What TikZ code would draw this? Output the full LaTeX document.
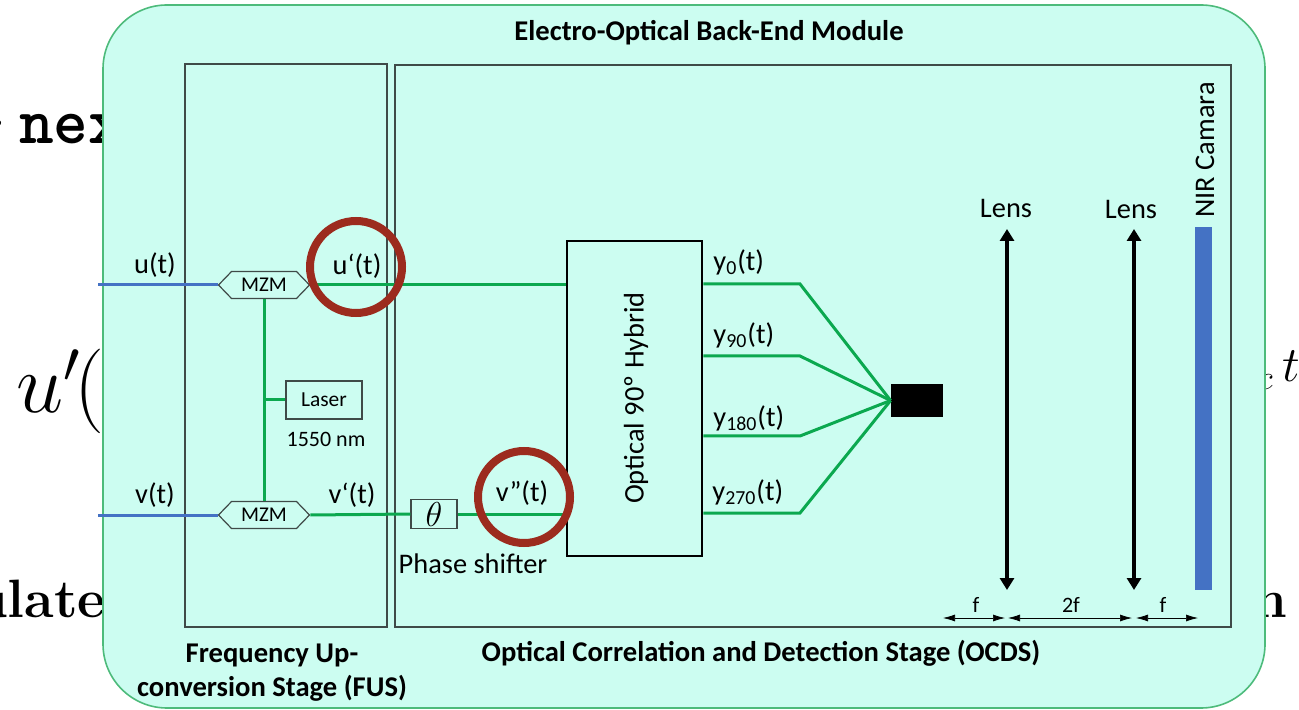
\documentclass[tikz,border=0pt]{standalone}
\usepackage{amsmath}
\usepackage{xcolor}
\usepackage{graphicx}
\usepackage{fontspec}
\newfontfamily\carlito{Carlito}
\usetikzlibrary{positioning,arrows.meta,shapes.symbols}
\definecolor{panelfill}{HTML}{CCFDF1}
\definecolor{panelline}{HTML}{4DBB7B}
\definecolor{fibre}{HTML}{0BA84F}
\definecolor{feed}{HTML}{4472C4}
\definecolor{ring}{HTML}{9C2B1E}
\definecolor{stageline}{HTML}{3F4A48}
\tikzset{
    stagebox/.style={draw=stageline, line width=0.7pt, inner sep=0pt},
    modulator/.style={draw=stageline, line width=0.6pt, fill=panelfill, signal, signal to=east and west, signal pointer angle=92, minimum width=45.5pt, minimum height=13.5pt, inner sep=0pt, font=\carlito\fontsize{10.5}{12}\selectfont},
    smallbox/.style={draw=stageline, line width=0.6pt, fill=panelfill, inner sep=0pt, font=\carlito\fontsize{10.7}{12}\selectfont},
    lbl/.style={font=\carlito\fontsize{14.2}{16}\selectfont, inner sep=0pt},
    smalllbl/.style={font=\carlito\fontsize{11}{13}\selectfont, inner sep=0pt},
    boldlbl/.style={font=\carlito\fontsize{14.3}{16}\selectfont\bfseries, inner sep=0pt},
    backtt/.style={font=\fontsize{33}{38}\selectfont\ttfamily\bfseries, inner sep=0pt, anchor=base west},
    backrm/.style={font=\fontsize{27}{32}\selectfont\bfseries, inner sep=0pt, anchor=base east},
    fibreline/.style={draw=fibre, line width=1.5pt},
    feedline/.style={draw=feed, line width=1.5pt},
    lensarrow/.style={line width=2pt, {Triangle[width=7pt,length=6pt]}-{Triangle[width=7pt,length=6pt]}},
    gaparrow/.style={line width=0.35pt, {Latex[width=3.5pt,length=6pt]}-{Latex[width=3.5pt,length=6pt]}},
    marker/.style={draw=ring, line width=4pt, circle, minimum size=46pt, inner sep=0pt}
}
\begin{document}
\begin{tikzpicture}[x=0.5pt,y=-0.5pt]
    \useasboundingbox (0,0) rectangle (1299,710);
    \clip (0,0) rectangle (1299,710);

    % Tekst achter het paneel
    \node[backtt] (backnext) at (-30,144) {-\kern1.5pt\,nex};
    \node[backrm] (backlate) at (106,617) {ulate};
    \node[backrm] (backn) at (1288,617) {n};
    \node[anchor=base west, inner sep=0pt, font=\fontsize{24}{28}\selectfont] (backu) at (16,413) {\scalebox{1.7}{$u'\kern-2pt($}};
    \node[anchor=base east, inner sep=0pt, font=\fontsize{24}{28}\selectfont] (backt) at (1300,382) {$_c\,t$};

    % Paneel
    \fill[panelfill, draw=panelline, line width=0.8pt, rounded corners=32pt] (103,5) rectangle (1265,708);
    \node[boldlbl] (title) at (709,33) {Electro-Optical Back-End Module};

    % Stages
    \draw[stagebox] (185,64) rectangle (387,627);
    \draw[stagebox] (395,65) rectangle (1231,627);
    \node[boldlbl] (fusone) at (272,655) {Frequency Up-};
    \node[boldlbl] (fustwo) at (272,688) {conversion Stage (FUS)};
    \node[boldlbl] (ocds) at (761,653) {Optical Correlation and Detection Stage (OCDS)};

    % Modulatoren en laser
    \node[modulator] (mzmu) at (264,285) {MZM};
    \node[modulator] (mzmv) at (264,515) {MZM};
    \node[smallbox, minimum width=38pt, minimum height=19pt] (laser) at (324,400) {Laser};
    \node[smalllbl] (wavelength) at (326,439) {1550 nm};
    \node[smallbox, minimum width=23pt, minimum height=14.5pt, font=\fontsize{17}{19}\selectfont] (theta) at (434,514) {$\theta$};
    \node[lbl] (phase) at (473,564) {Phase shifter};

    % Hybride
    \node[draw=black, line width=1.3pt, minimum width=67.5pt, minimum height=157.5pt, inner sep=0pt] (hybrid) at (634.5,398.5) {};
    \node[lbl, rotate=90] (hybridlbl) at (636,398) {Optical 90º Hybrid};
    \node[fill=black, minimum width=26pt, minimum height=16.5pt, inner sep=0pt] (detector) at (917,400.5) {};

    % Ingangen
    \coordinate (uin) at (98,285);
    \coordinate (vin) at (98,515);
    \draw[feedline] (uin) -- (mzmu.west);
    \draw[feedline] (vin) -- (mzmv.west);
    \node[lbl] (ulbl) at (155,265) {u(t)};
    \node[lbl] (vlbl) at (155,495) {v(t)};

    % Groene lijnen
    \coordinate (lasertap) at (264,400);
    \draw[fibreline] (mzmu.east) -- (mzmu.east -| hybrid.west);
    \draw[fibreline] (mzmu.south) -- (mzmv.north);
    \draw[fibreline] (lasertap) -- (laser.west);
    \draw[fibreline] (mzmv.east) -- (theta.west);
    \draw[fibreline] (theta.east) -- (theta.east -| hybrid.west);
    \node[lbl] (uplbl) at (357,266) {u‘(t)};
    \node[lbl] (vplbl) at (352,495) {v‘(t)};
    \node[lbl] (vpplbl) at (522,493) {v”(t)};

    % Uitgangen
    \coordinate (bendzero) at (800,284);
    \coordinate (bendninety) at (800,356);
    \coordinate (bendoneeighty) at (800,436);
    \coordinate (bendtwoseventy) at (800,513);
    \draw[fibreline] (bendzero -| hybrid.east) -- (bendzero) -- (detector.west);
    \draw[fibreline] (bendninety -| hybrid.east) -- (bendninety) -- (detector.west);
    \draw[fibreline] (bendoneeighty -| hybrid.east) -- (bendoneeighty) -- (detector.west);
    \draw[fibreline] (bendtwoseventy -| hybrid.east) -- (bendtwoseventy) -- (detector.west);
    \node[lbl, anchor=west] (yzero) at (713,262) {y\textsubscript{0}(t)};
    \node[lbl, anchor=west] (yninety) at (713,335) {y\textsubscript{90}(t)};
    \node[lbl, anchor=west] (yoneeighty) at (713,418) {y\textsubscript{180}(t)};
    \node[lbl, anchor=west] (ytwoseventy) at (712,492) {y\textsubscript{270}(t)};

    % Lenzen en camera
    \coordinate (lensatop) at (1007,229);
    \coordinate (lensabot) at (1007,590);
    \coordinate (lensbtop) at (1134,229);
    \coordinate (lensbbot) at (1134,590);
    \draw[lensarrow] (lensatop) -- (lensabot);
    \draw[lensarrow] (lensbtop) -- (lensbbot);
    \node[lbl] (lensa) at (1006,208) {Lens};
    \node[lbl] (lensb) at (1131,209) {Lens};
    \fill[feed] (1195,227) rectangle (1212,590);
    \node[lbl, rotate=90] (camera) at (1205,150) {NIR Camara};

    % Afstanden
    \coordinate (gapa) at (943,618);
    \coordinate (gapb) at (1005,618);
    \coordinate (gapc) at (1008,618);
    \coordinate (gapd) at (1132,618);
    \coordinate (gape) at (1136,618);
    \coordinate (gapf) at (1198,618);
    \draw[gaparrow] (gapa) -- (gapb);
    \draw[gaparrow] (gapc) -- (gapd);
    \draw[gaparrow] (gape) -- (gapf);
    \node[smalllbl] (fa) at (976,605) {f};
    \node[smalllbl] (tf) at (1071,605) {2f};
    \node[smalllbl] (fb) at (1163,605) {f};

    % Rode ringen
    \node[marker] (ringu) at (356,267) {};
    \node[marker] (ringv) at (524,497) {};
\end{tikzpicture}
\end{document}
